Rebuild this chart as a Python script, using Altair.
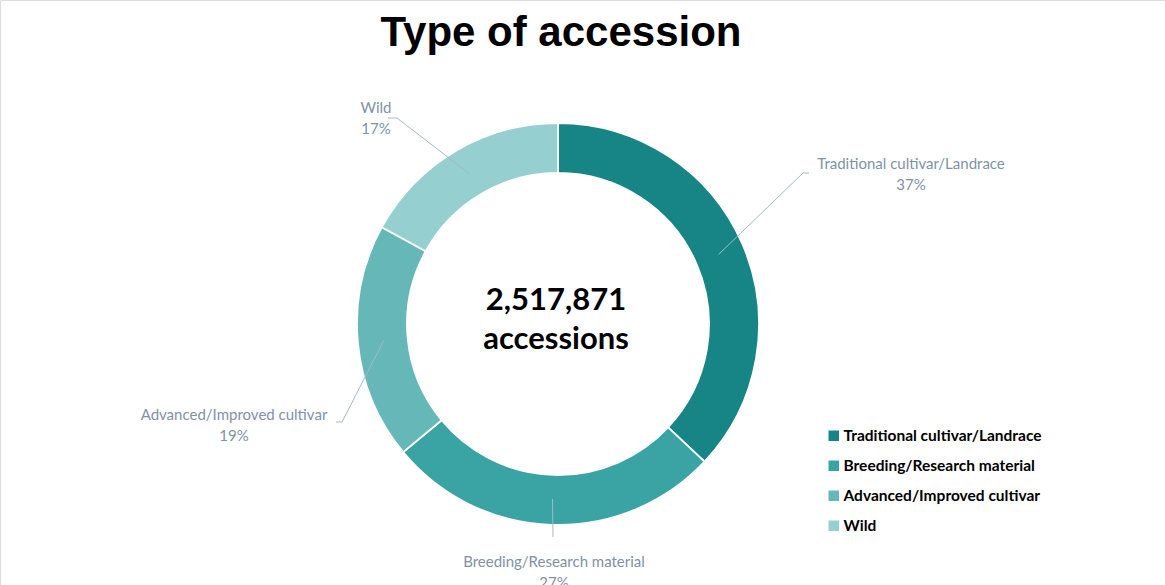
import math
import altair as alt
import pandas as pd

# ---- data ----
categories = ["Traditional cultivar/Landrace", "Breeding/Research material",
              "Advanced/Improved cultivar", "Wild"]
shares = [37, 27, 19, 17]
total_label = ["2,517,871", "accessions"]
title_text = "Type of accession"

# ---- style / layout ----
colors = ["#178585", "#3AA3A3", "#66B8B8", "#96CFCF"]
W, H = 1165, 585
CX, CY = 558, 324
R_IN, R_OUT = 151, 201
R_LEADER = 175
label_font = "Lato"
label_color = "#7F92A6"
leader_color = "#A3B9C8"
# label anchor (center x, top y) and leader elbow/end points
label_pos = {
    "Traditional cultivar/Landrace": (911, 157),
    "Breeding/Research material": (554, 555),
    "Advanced/Improved cultivar": (234, 408),
    "Wild": (376, 101),
}
leader_pts = {
    "Traditional cultivar/Landrace": [(803, 173), (809, 173)],
    "Breeding/Research material": [(553, 537), (553, 537)],
    "Advanced/Improved cultivar": [(342, 422), (336, 422)],
    "Wild": [(397, 118), (388, 118)],
}

df = pd.DataFrame({"category": categories, "share": shares,
                   "order": list(range(len(categories)))})
tot = sum(shares)
cum = 0
rows_lbl, rows_seg = [], []
for c, s in zip(categories, shares):
    mid = (cum + s / 2) / tot * 2 * math.pi
    cum += s
    ix, iy = CX + R_LEADER * math.sin(mid), CY - R_LEADER * math.cos(mid)
    (ex, ey), (fx, fy) = leader_pts[c]
    rows_seg.append({"x": ix, "y": iy, "x2": ex, "y2": ey})
    rows_seg.append({"x": ex, "y": ey, "x2": fx, "y2": fy})
    lx, ly = label_pos[c]
    rows_lbl.append({"x": lx, "y": ly, "txt": f"{c}\n{s}%"})
seg = pd.DataFrame(rows_seg)
lbl = pd.DataFrame(rows_lbl)

arcs = alt.Chart(df).mark_arc(innerRadius=R_IN, outerRadius=R_OUT,
                              stroke="white", strokeWidth=1.8).encode(
    theta=alt.Theta("share:Q", stack=True),
    order=alt.Order("order:Q"),
    color=alt.Color("category:N",
                    scale=alt.Scale(domain=categories, range=colors),
                    legend=alt.Legend(orient="none", legendX=826, legendY=428,
                                      title=None, symbolType="square",
                                      symbolSize=110, symbolStrokeWidth=0,
                                      labelFont=label_font, labelFontWeight="bold",
                                      labelFontSize=15.5, labelColor="black",
                                      labelLimit=400,
                                      rowPadding=13, labelOffset=2)),
    x=alt.value(CX), y=alt.value(CY),
)

rules = alt.Chart(seg).mark_rule(color=leader_color, strokeWidth=1).encode(
    x=alt.X("x:Q", scale=None), y=alt.Y("y:Q", scale=None),
    x2="x2:Q", y2="y2:Q")

labels = alt.Chart(lbl).mark_text(font=label_font, fontSize=15, color=label_color,
                                  align="center", baseline="top", lineBreak="\n",
                                  lineHeight=21).encode(
    x=alt.X("x:Q", scale=None), y=alt.Y("y:Q", scale=None), text="txt:N")

center = alt.Chart(pd.DataFrame({"t": ["\n".join(total_label)]})).mark_text(
    font=label_font, fontWeight="bold", fontSize=31, color="black",
    align="center", baseline="middle", lineBreak="\n", lineHeight=39).encode(
    x=alt.value(CX - 2), y=alt.value(CY - 23), text="t:N")

title = alt.Chart(pd.DataFrame({"t": [title_text]})).mark_text(
    font="Liberation Sans", fontWeight="bold", fontSize=42, color="black",
    align="center", baseline="middle").encode(
    x=alt.value(561), y=alt.value(33), text="t:N")

chart = alt.layer(arcs, rules, labels, center, title).properties(
    width=W, height=H, padding=0, autosize=alt.AutoSizeParams(type="none")
).configure_view(stroke=None).configure(background="white")

chart.save("out.html", embed_options={"renderer": "svg", "actions": False})
